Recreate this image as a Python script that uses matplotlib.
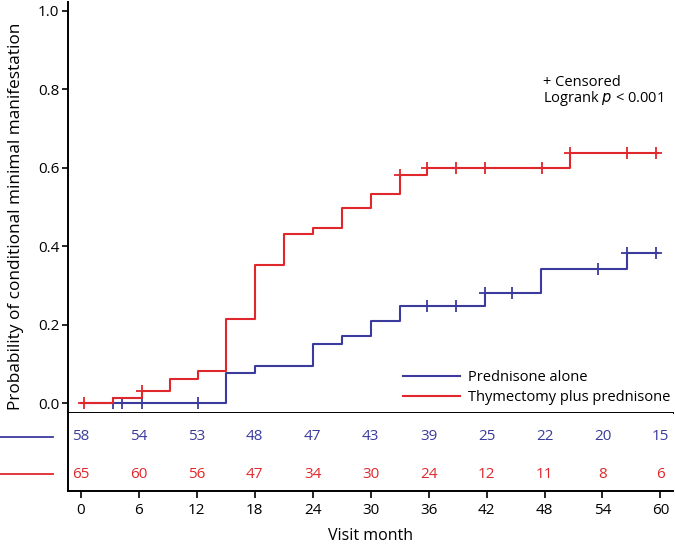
import numpy as np
import matplotlib
matplotlib.use("Agg")
import matplotlib.pyplot as plt
from matplotlib.lines import Line2D

plt.rcParams['font.family'] = ['Open Sans', 'DejaVu Sans']

# step curves (cumulative probability of CMM)
pred_times = [0, 15, 18, 24, 27, 30, 33, 41.8, 47.6, 56.5]
pred_probs = [0, 0.076, 0.095, 0.152, 0.172, 0.210, 0.249, 0.280, 0.343, 0.384]
pred_censor = [3.3, 4.3, 6.3, 12.1, 35.8, 38.8, 41.8, 44.6, 53.5, 56.5, 59.5]

thym_times = [0, 3.3, 6.3, 9.2, 12.1, 15, 18, 21, 24, 27, 30, 33, 35.8, 50.6]
thym_probs = [0, 0.014, 0.031, 0.062, 0.081, 0.215, 0.351, 0.432, 0.446, 0.498,
              0.532, 0.582, 0.599, 0.638]
thym_censor = [0.3, 6.3, 33, 35.8, 38.8, 41.8, 47.7, 50.6, 56.5, 59.5]
end_time = 59.7

# numbers at risk
months = [0, 6, 12, 18, 24, 30, 36, 42, 48, 54, 60]
pred_risk = [58, 54, 53, 48, 47, 43, 39, 25, 22, 20, 15]
thym_risk = [65, 60, 56, 47, 34, 30, 24, 12, 11, 8, 6]

blue = '#3b3b9e'
red = '#e0282c'

W, H = 675, 544
fig = plt.figure(figsize=(W / 100, H / 100), dpi=100)

left, right = 68.3 / W, 673 / W
ax = fig.add_axes([left, 1 - 412.7 / H, right - left, (412.7 - 2) / H])
tab = fig.add_axes([left, 1 - 490.5 / H, right - left, (490.5 - 412.7) / H])

xlim = (-1.31, 61.3)


def level(times, probs, t):
    i = np.searchsorted(times, t, side='right') - 1
    return np.array(probs)[i]


for times, probs, cens, col, lab in [
        (pred_times, pred_probs, pred_censor, blue, 'Prednisone alone'),
        (thym_times, thym_probs, thym_censor, red, 'Thymectomy plus prednisone')]:
    ax.step(times + [end_time], probs + [probs[-1]], where='post', color=col,
            lw=1.5, label=lab)
    ax.plot(cens, level(times, probs, cens), ls='none', marker='+', ms=8,
            mew=1.3, color=col, clip_on=False)

ax.set_xlim(*xlim)
ax.set_ylim(-0.024, 1.022)
ax.set_yticks([0, 0.2, 0.4, 0.6, 0.8, 1.0])
ax.set_yticklabels(['0.0', '0.2', '0.4', '0.6', '0.8', '1.0'])
ax.set_xticks([])
for s in ['top', 'right']:
    ax.spines[s].set_visible(False)
for s in ['left', 'bottom']:
    ax.spines[s].set_linewidth(1.4)
ax.tick_params(axis='y', labelsize=11, length=4.5, width=1.2, pad=2)
ax.set_ylabel('Probability of conditional minimal manifestation', fontsize=12.4)
ax.yaxis.set_label_coords(-0.073, 0.478)

ax.text(47.8, 0.818, '+ Censored', fontsize=10.5, va='center', ha='left')
ax.text(47.8, 0.775, 'Logrank $\\it{p}$ < 0.001', fontsize=10.5, va='center', ha='left')

ax.legend(loc='upper left', bbox_to_anchor=(403 / W, 1 - 370 / H),
          bbox_transform=fig.transFigure, frameon=False, fontsize=10.5,
          handlelength=3.9, handletextpad=0.55, labelspacing=0.35,
          borderpad=0, borderaxespad=0)

# risk table
tab.set_xlim(*xlim)
tab.set_ylim(0, 1)
for m, n in zip(months, pred_risk):
    tab.text(m, 0.69, str(n), color=blue, fontsize=11, ha='center', va='center')
for m, n in zip(months, thym_risk):
    tab.text(m, 0.212, str(n), color=red, fontsize=11, ha='center', va='center')
tab.set_yticks([])
tab.set_xticks(months)
for s in ['top', 'right']:
    tab.spines[s].set_visible(False)
for s in ['left', 'bottom']:
    tab.spines[s].set_linewidth(1.4)
tab.tick_params(axis='x', labelsize=11, length=5, width=1.2, pad=4)
tab.set_xlabel('Visit month', fontsize=11.5, labelpad=7)

fig.add_artist(Line2D([0, 53 / W], [1 - 436.7 / H] * 2, color=blue, lw=1.3))
fig.add_artist(Line2D([0, 53 / W], [1 - 474 / H] * 2, color=red, lw=1.3))

fig.savefig('out.png', dpi=100)
